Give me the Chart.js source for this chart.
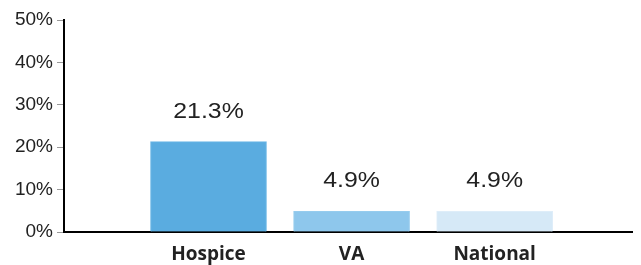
<!DOCTYPE html>
<html>
<head>
<meta charset="utf-8">
<script src="https://cdn.jsdelivr.net/npm/chart.js@4/dist/chart.umd.min.js"></script>
<style>
  html, body { margin: 0; padding: 0; background: #fff; }
  #wrap { width: 641px; height: 265px; }
</style>
</head>
<body>
<div id="wrap"><canvas id="myChart"></canvas></div>
<script>
const categories = ['Hospice', 'VA', 'National'];
const rates = [21.3, 4.9, 4.9];
const yTicks = [0, 10, 20, 30, 40, 50];

const ctx = document.getElementById('myChart').getContext('2d');

// value labels above each bar (slightly stretched, like the source image)
const valueLabels = {
  id: 'valueLabels',
  afterDatasetsDraw(chart) {
    const c = chart.ctx;
    const meta = chart.getDatasetMeta(0);
    meta.data.forEach((bar, i) => {
      c.save();
      c.translate(bar.x, bar.y - 30);
      c.scale(1.13, 1);
      c.font = '22px "Liberation Sans", Arial, sans-serif';
      c.fillStyle = '#222';
      c.textAlign = 'center';
      c.textBaseline = 'middle';
      c.fillText(rates[i].toFixed(1) + '%', 0, 0);
      c.restore();
    });
  }
};

const myChart = new Chart(ctx, {
  type: 'bar',
  data: {
    datasets: [{
      data: categories.map((c, i) => ({ x: i, y: rates[i] })),
      backgroundColor: ['rgb(90, 172, 224)', 'rgb(142, 199, 236)', 'rgb(214, 233, 247)'],
      borderColor: ['rgb(110, 184, 230)', 'rgb(150, 204, 238)', 'rgb(222, 237, 249)'],
      borderWidth: 1,
      barThickness: 116,
    }],
  },
  options: {
    responsive: true,
    maintainAspectRatio: false,
    animation: false,
    layout: { padding: { top: 20, right: 9 } },
    plugins: {
      legend: { display: false },
      tooltip: { enabled: false },
    },
    scales: {
      x: {
        type: 'linear',
        offset: false,
        min: -1.01,
        max: 2.96,
        afterFit(scale) { scale.height = 33; },
        afterBuildTicks(scale) {
          scale.ticks = categories.map((c, i) => ({ value: i }));
        },
        grid: { display: false, drawTicks: false },
        border: { color: '#000', width: 2 },
        ticks: {
          padding: 11,
          color: '#222',
          font: { family: '"Open Sans", sans-serif', size: 19, weight: 'bold' },
          callback: (v) => categories[v] ?? '',
        },
      },
      y: {
        min: 0,
        max: 50,
        afterFit(scale) { scale.width = 64; },
        afterBuildTicks(scale) {
          scale.ticks = yTicks.map(v => ({ value: v }));
        },
        grid: {
          display: true,
          drawOnChartArea: false,
          drawTicks: true,
          tickLength: 7,
          color: '#999',
        },
        border: { color: '#000', width: 2 },
        ticks: {
          padding: 4,
          color: '#222',
          font: { family: '"Liberation Sans", Arial, sans-serif', size: 19 },
          callback: (v) => v + '%',
        },
      },
    },
  },
  plugins: [valueLabels],
});
</script>
</body>
</html>
